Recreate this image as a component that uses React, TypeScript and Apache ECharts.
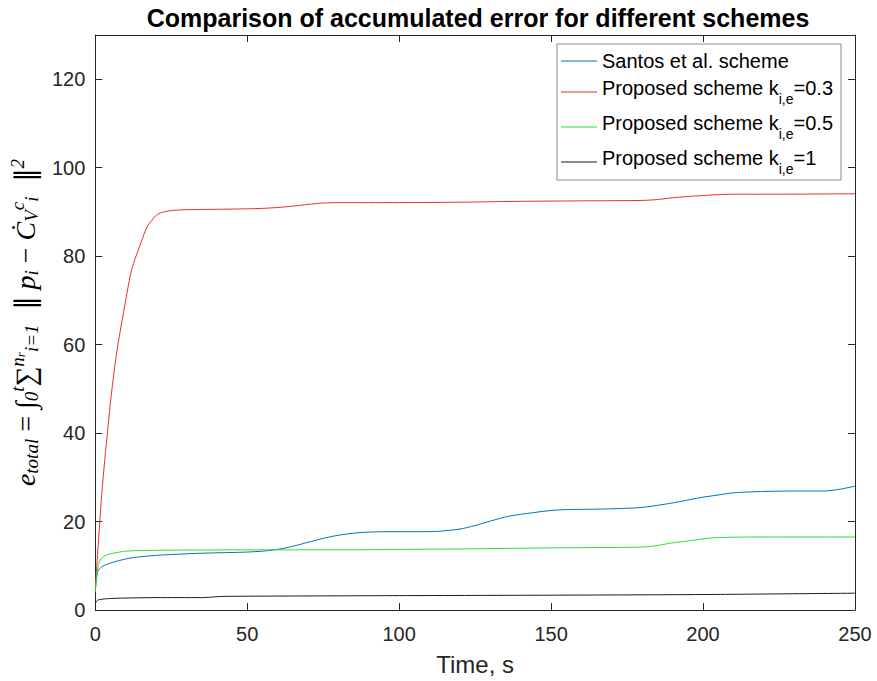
import React, { useEffect, useRef } from "react";
import * as echarts from "echarts";

const FONT = "Liberation Sans, Arial, Helvetica, sans-serif";
const SERIF = "Liberation Serif, Times New Roman, serif";

const titleText = "Comparison of accumulated error for different schemes";
const xAxisName = "Time, s";
const xTicks = { min: 0, max: 250, interval: 50 };
const yTicks = { min: 0, max: 130, interval: 20 };

const seriesNames = [
  "Santos et al. scheme",
  "Proposed scheme k_i,e=0.3",
  "Proposed scheme k_i,e=0.5",
  "Proposed scheme k_i,e=1",
];
const seriesColors = ["#0072BD", "#EE2B2B", "#2EDD2E", "#1a1a1a"];

const santosT = [0, 0.5, 1, 2, 3, 5, 8, 12, 16, 21, 30, 38, 45, 50, 55, 60, 65, 70, 75, 80, 87, 95, 105, 113, 120, 125, 130, 136, 144, 150, 155, 165, 175, 180, 190, 199, 205, 210, 220, 230, 240, 245, 250];
const santosV = [4.5, 7.5, 9, 9.7, 10.1, 10.6, 11.2, 11.8, 12.1, 12.4, 12.7, 12.9, 13.0, 13.1, 13.3, 13.7, 14.4, 15.3, 16.2, 16.9, 17.5, 17.7, 17.7, 17.8, 18.3, 19.1, 20.1, 21.2, 22.0, 22.5, 22.7, 22.8, 23.0, 23.2, 24.2, 25.4, 26.0, 26.5, 26.8, 26.9, 26.9, 27.3, 28.0];

const k03T = [0, 0.5, 1, 2, 3, 4, 5, 7, 10, 12, 15, 17, 20, 22, 25, 30, 40, 50, 55, 60, 65, 70, 75, 80, 90, 100, 120, 140, 160, 180, 185, 190, 195, 200, 205, 210, 220, 250];
const k03V = [5, 10, 15, 25, 33, 40, 47, 58, 70, 77, 83, 86.5, 89.2, 89.9, 90.3, 90.5, 90.6, 90.7, 90.8, 91.0, 91.3, 91.7, 92.0, 92.1, 92.1, 92.1, 92.2, 92.4, 92.5, 92.6, 92.8, 93.2, 93.5, 93.7, 93.9, 94.0, 94.0, 94.1];

const k05T = [0, 0.5, 1, 1.6, 3, 5, 8, 10, 15, 21, 30, 50, 84, 100, 120, 144, 160, 179, 183, 186, 190, 195, 199, 203, 206, 215, 250];
const k05V = [4, 8, 10, 11.3, 12.2, 12.7, 13.1, 13.3, 13.45, 13.5, 13.55, 13.6, 13.6, 13.7, 13.8, 14.0, 14.1, 14.2, 14.4, 14.7, 15.2, 15.6, 16.0, 16.3, 16.4, 16.5, 16.5];

const k1T = [0, 0.5, 1, 3, 5, 10, 20, 35, 38, 41, 45, 60, 80, 100, 150, 200, 250];
const k1V = [1.5, 2.0, 2.3, 2.5, 2.6, 2.7, 2.8, 2.8, 2.9, 3.05, 3.1, 3.15, 3.2, 3.25, 3.35, 3.5, 3.8];

const seriesT = [santosT, k03T, k05T, k1T];
const seriesV = [santosV, k03V, k05V, k1V];

const yLabel =
  "{v|e}{sub|total}{op| = }{int|∫}{sub|0}{sup|t}{sum|∑}{sup|n}{subsm|r}{sub|i=1}{op|  ∥ }{v|p}{sub|i}{op| − }{v|Ċ}{sub|V}{sup|c}{sub|i}{op|  ∥}{sup|2}";

const zip = (t: number[], v: number[]) => t.map((x, i) => [x, v[i]]);

export default function App() {
  const ref = useRef<HTMLDivElement>(null);
  useEffect(() => {
    if (!ref.current) return;
    const chart = echarts.init(ref.current, undefined, { renderer: "svg" });
    const axisColor = "#262626";
    const baseX = {
      type: "value",
      min: xTicks.min,
      max: xTicks.max,
      interval: xTicks.interval,
      splitLine: { show: false },
      axisLine: { show: true, onZero: false, lineStyle: { color: axisColor, width: 1 } },
      axisTick: { show: true, inside: true, length: 7, lineStyle: { color: axisColor } },
    };
    const baseY = {
      type: "value",
      min: yTicks.min,
      max: yTicks.max,
      interval: yTicks.interval,
      splitLine: { show: false },
      axisLine: { show: true, onZero: false, lineStyle: { color: axisColor, width: 1 } },
      axisTick: { show: true, inside: true, length: 7, lineStyle: { color: axisColor } },
    };
    const option: any = {
      animation: false,
      backgroundColor: "#ffffff",
      grid: { left: 95, right: 22, top: 35, bottom: 71, containLabel: false },
      graphic: [
        {
          type: "text",
          x: 478,
          y: 18,
          style: {
            text: titleText,
            align: "center",
            verticalAlign: "middle",
            font: `bold 25px ${FONT}`,
            fill: "#000000",
          },
        },
      ],
      legend: {
        orient: "vertical",
        left: 557,
        top: 44,
        padding: [7, 8, 4, 4],
        itemGap: 7,
        itemWidth: 36,
        itemHeight: 14,
        icon: "path://M0,0 M36,14 M0,6.5 L36,6.5 L36,7.5 L0,7.5 Z",
        backgroundColor: "#ffffff",
        borderColor: "#8c8c8c",
        borderWidth: 1,
        borderRadius: 0,
        data: seriesNames,
        formatter: (name: string) => {
          const m = name.match(/^(.*k)_i,e(=.*)$/);
          if (m) return `{main|${m[1]}}{sub|i,e}{main|${m[2]}}`;
          return `{main|${name}}`;
        },
        textStyle: {
          fontFamily: FONT,
          fontSize: 20,
          color: "#000000",
          rich: {
            main: { fontFamily: FONT, fontSize: 20, color: "#000", verticalAlign: "top" },
            sub: { fontFamily: FONT, fontSize: 14, color: "#000", verticalAlign: "bottom", padding: [14, 0, 0, 0] },
          },
        },
      },
      xAxis: [
        {
          ...baseX,
          position: "bottom",
          axisLabel: { fontSize: 20, color: axisColor, margin: 14, fontFamily: FONT },
          name: xAxisName,
          nameLocation: "middle",
          nameGap: 42,
          nameTextStyle: { fontSize: 24, color: axisColor, fontFamily: FONT },
        },
        { ...baseX, position: "top", axisLabel: { show: false } },
      ],
      yAxis: [
        {
          ...baseY,
          position: "left",
          axisLabel: { fontSize: 20, color: axisColor, margin: 10, fontFamily: FONT, showMaxLabel: false },
          name: yLabel,
          nameLocation: "middle",
          nameRotate: 90,
          nameGap: 37,
          nameTextStyle: {
            fontFamily: SERIF,
            fontSize: 28,
            color: "#000",
            rich: {
              v: { fontFamily: SERIF, fontStyle: "italic", fontSize: 28, color: "#000" },
              op: { fontFamily: SERIF, fontSize: 28, color: "#000" },
              int: { fontFamily: SERIF, fontStyle: "italic", fontSize: 28, color: "#000" },
              sum: { fontFamily: SERIF, fontSize: 28, color: "#000" },
              sub: { fontFamily: SERIF, fontStyle: "italic", fontSize: 19, color: "#000", padding: [12, 0, 0, 0] },
              subsm: { fontFamily: SERIF, fontStyle: "italic", fontSize: 13, color: "#000", padding: [0, 0, 10, 0] },
              sup: { fontFamily: SERIF, fontStyle: "italic", fontSize: 19, color: "#000", padding: [0, 0, 16, 0] },
            },
          },
        },
        { ...baseY, position: "right", axisLabel: { show: false } },
      ],
      series: seriesNames.map((name, i) => ({
        name,
        type: "line",
        xAxisIndex: 0,
        yAxisIndex: 0,
        symbol: "none",
        showSymbol: false,
        smooth: 0.25,
        lineStyle: { color: seriesColors[i], width: 1 },
        itemStyle: { color: seriesColors[i] },
        data: zip(seriesT[i], seriesV[i]),
        z: 2 + i,
      })),
    };
    chart.setOption(option);
    return () => chart.dispose();
  }, []);
  return <div ref={ref} style={{ width: 877, height: 681, position: "absolute", left: 0, top: 0 }} />;
}
